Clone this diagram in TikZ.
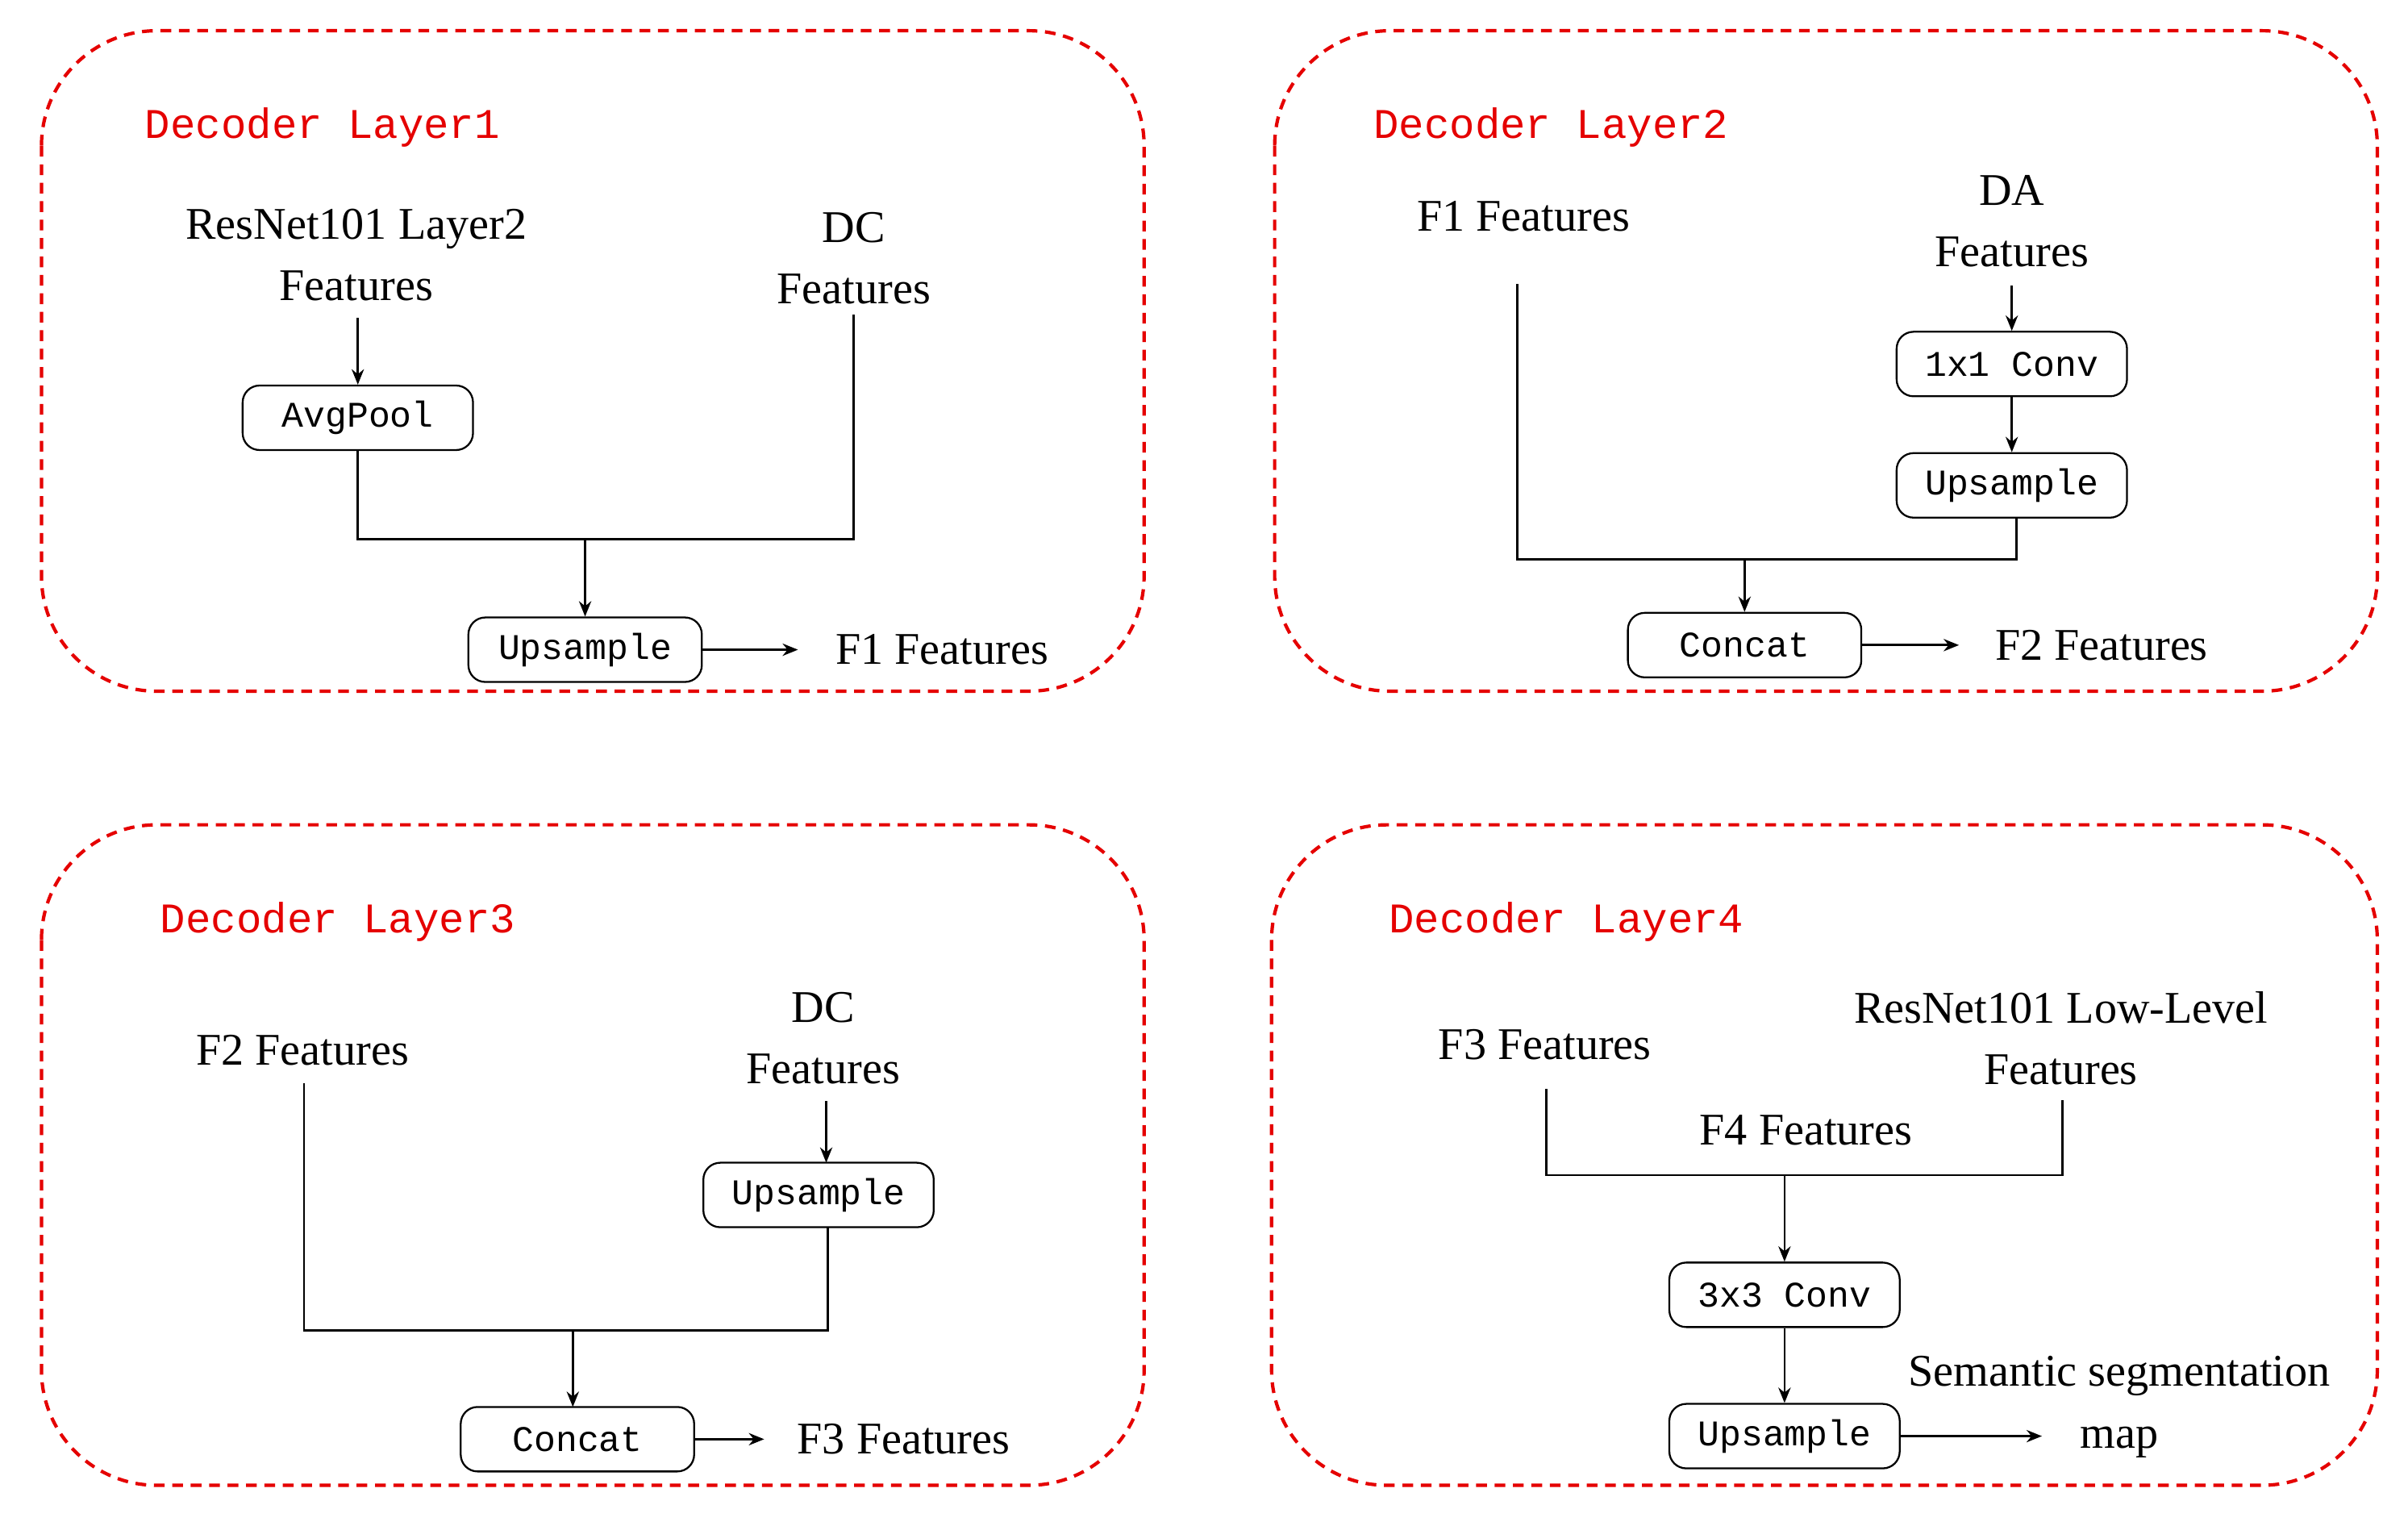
\documentclass[tikz,border=0pt]{standalone}
\usepackage{fontspec}
\setmainfont{Liberation Serif}
\newfontfamily\monof{Liberation Mono}
\usetikzlibrary{arrows.meta}
\begin{document}
\begin{tikzpicture}[x=1pt,y=-1pt,
 panel/.style={draw=red!90!black,line width=2.2pt,dash pattern=on 7pt off 5pt,rounded corners=75pt},
 ttl/.style={text=red!90!black,font=\monof\fontsize{27.5}{30}\selectfont},
 txt/.style={font=\fontsize{29.5}{40}\selectfont,align=center,inner sep=1pt},
 box/.style={draw,line width=1.2pt,rounded corners=11pt,minimum width=150pt,minimum height=42pt,font=\monof\fontsize{23.5}{26}\selectfont,inner sep=0pt},
 ln/.style={line width=1.4pt},
 ar/.style={ln,-{Stealth[length=10pt,width=8pt]}}]
\useasboundingbox (0,0) rectangle (1568,993);
\draw[panel] (27,20) rectangle (745,450);
\draw[panel] (830,20) rectangle (1548,450);
\draw[panel] (27,537) rectangle (745,967);
\draw[panel] (828,537) rectangle (1548,967);
% Panel 1
\node[ttl] (t1) at (210,83) {Decoder Layer1};
\node[txt] (r1) at (232,166) {ResNet101 Layer2\\Features};
\node[txt] (d1) at (556,168) {DC\\Features};
\node[box] (avg) at (233,272) {AvgPool};
\node[box,minimum width=152pt] (up1) at (381,423) {Upsample};
\node[txt,anchor=west] (f1) at (543,423) {F1 Features};
\coordinate (j1) at (381,351);
\draw[ar] (233,207) -- (avg.north);
\draw[ln] (avg.south) |- (j1) -| (556,205);
\draw[ar] (j1) -- (up1.north);
\draw[ar] (up1.east) -- ++(62,0);
% Panel 2
\node[ttl] (t2) at (1010,83) {Decoder Layer2};
\node[txt] (f1b) at (992,141) {F1 Features};
\node[txt] (da) at (1310,144) {DA\\Features};
\node[box] (c11) at (1310,237) {1x1 Conv};
\node[box] (up2) at (1310,316) {Upsample};
\node[box,minimum width=152pt] (cat2) at (1136,420) {Concat};
\node[txt,anchor=west] (f2) at (1298,420) {F2 Features};
\coordinate (j2) at (1136,364);
\draw[ar] (1310,186) -- (c11.north);
\draw[ar] (c11.south) -- (up2.north);
\draw[ln] (988,185) |- (j2) -| (1313,337);
\draw[ar] (j2) -- (cat2.north);
\draw[ar] (cat2.east) -- ++(63,0);
% Panel 3
\node[ttl] (t3) at (220,600) {Decoder Layer3};
\node[txt] (f2b) at (197,684) {F2 Features};
\node[txt] (d3) at (536,676) {DC\\Features};
\node[box] (up3) at (533,778) {Upsample};
\node[box,minimum width=152pt] (cat3) at (376,937) {Concat};
\node[txt,anchor=west] (f3) at (518,937) {F3 Features};
\coordinate (j3) at (373,866);
\draw[ar] (538,717) -- (538,757);
\draw[ln] (198,705) |- (j3) -| (539,799);
\draw[ar] (j3) -- (373,916);
\draw[ar] (cat3.east) -- ++(45,0);
% Panel 4
\node[ttl] (t4) at (1020,600) {Decoder Layer4};
\node[txt] (f3b) at (1006,680) {F3 Features};
\node[txt] (rl) at (1342,676) {ResNet101 Low-Level\\Features};
\node[txt] (f4) at (1176,736) {F4 Features};
\node[box] (c33) at (1162,843) {3x3 Conv};
\node[box] (up4) at (1162,935) {Upsample};
\node[txt] (sem) at (1380,916) {Semantic segmentation\\map};
\coordinate (j4) at (1162,765);
\draw[ln] (1007,709) |- (j4) -| (1343,716);
\draw[ar] (j4) -- (c33.north);
\draw[ar] (c33.south) -- (up4.north);
\draw[ar] (up4.east) -- ++(92,0);
\end{tikzpicture}
\end{document}
